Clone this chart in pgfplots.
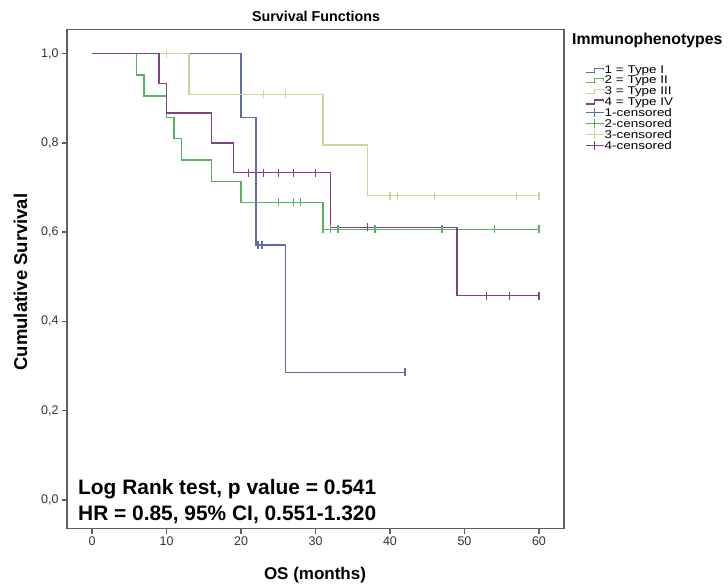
\documentclass[border=0pt]{standalone}
\usepackage{fontspec}
\setmainfont{Liberation Sans}
\newfontfamily\legfont{Liberation Sans}[FakeStretch=1.2]
\usepackage{pgfplots}
\pgfplotsset{compat=1.18}
\definecolor{cI}{RGB}{92,108,172}
\definecolor{cII}{RGB}{86,178,98}
\definecolor{cIII}{RGB}{212,210,152}
\definecolor{cIV}{RGB}{128,68,132}
\definecolor{axgray}{RGB}{95,95,95}

\pgfplotsset{
  km/.style={const plot mark left, no marks, line width=1.4pt, #1,
    legend image code/.code={
      \draw[#1, line width=1.2pt] (0pt,-2pt) -- (9pt,-2pt) -- (9pt,2pt) -- (18pt,2pt) -- (18pt,0pt);}},
  cens/.style={only marks, mark=|, mark size=4pt, mark options={line width=1.3pt, #1},
    legend image code/.code={
      \draw[#1, line width=1.2pt] (0pt,0pt) -- (18pt,0pt);
      \draw[#1, line width=1.2pt] (9pt,-4.5pt) -- (9pt,4.5pt);}},
}

\begin{document}
\begin{tikzpicture}[x=1pt,y=1pt]
\path[use as bounding box] (0,0) rectangle (728,587);
\begin{axis}[
  at={(67pt,58.5pt)}, anchor=south west,
  width=497pt, height=499pt, scale only axis,
  xmin=-3.36, xmax=63.36, ymin=-0.064, ymax=1.054,
  xtick={0,10,20,30,40,50,60},
  ytick={0,0.2,0.4,0.6,0.8,1.0},
  tick pos=left, tick align=outside, major tick length=5pt,
  tick style={axgray, line width=1.3pt},
  axis line style={axgray, line width=1.3pt},
  /pgf/number format/assume math mode=true,
  yticklabel style={/pgf/number format/.cd, fixed, fixed zerofill, precision=1, use comma},
  ticklabel style={font=\fontsize{12.5}{14}\selectfont, text=black!80},
  legend style={at={(1.042,0.929)}, anchor=north west, draw=none, fill=none,
    font=\legfont\fontsize{11.2}{11}\selectfont, row sep=0.45pt, inner sep=0pt,
    nodes={inner sep=0.45pt}},
  legend cell align=left,
  clip=false,
]
\addplot[km=cI] coordinates {(0,1)(20,0.857)(22,0.571)(26,0.286)(42,0.286)};
\addlegendentry{1 = Type I}
\addplot[km=cII] coordinates {(0,1)(6,0.952)(7,0.905)(10,0.857)(11,0.810)(12,0.762)(16,0.714)(20,0.667)(31,0.606)(60,0.606)};
\addlegendentry{2 = Type II}
\addplot[km=cIII] coordinates {(0,1)(13,0.909)(31,0.795)(37,0.682)(60,0.682)};
\addlegendentry{3 = Type III}
\addplot[km=cIV] coordinates {(0,1)(9,0.933)(10,0.867)(16,0.8)(19,0.733)(32,0.611)(49,0.458)(60,0.458)};
\addlegendentry{4 = Type IV}
\addplot[cens=cI] coordinates {(22.3,0.571)(22.8,0.571)(42,0.286)};
\addlegendentry{1-censored}
\addplot[cens=cII] coordinates {(25,0.667)(27,0.667)(28,0.667)(31,0.606)(32,0.606)(33,0.606)(38,0.606)(47,0.606)(54,0.606)(60,0.606)};
\addlegendentry{2-censored}
\addplot[cens=cIII] coordinates {(10,1)(23,0.909)(26,0.909)(40,0.682)(41,0.682)(46,0.682)(57,0.682)(60,0.682)};
\addlegendentry{3-censored}
\addplot[cens=cIV] coordinates {(21,0.733)(23,0.733)(25,0.733)(27,0.733)(30,0.733)(37,0.611)(53,0.458)(56,0.458)(60,0.458)};
\addlegendentry{4-censored}
\end{axis}
\node[anchor=base, font=\bfseries\fontsize{14.3}{16}\selectfont] at (316,565.3) {Survival Functions};
\node[anchor=base, font=\bfseries\fontsize{17}{19}\selectfont] at (315,7.7) {OS (months)};
\node[anchor=base, rotate=90, font=\bfseries\fontsize{18.5}{20}\selectfont] at (27,305) {Cumulative Survival};
\node[anchor=base west, inner sep=0pt, font=\bfseries\fontsize{15.8}{17}\selectfont] at (572,542) {Immunophenotypes};
\node[anchor=base west, inner sep=0pt, font=\bfseries\fontsize{20.9}{23}\selectfont] at (78,92.7) {Log Rank test, p value = 0.541};
\node[anchor=base west, inner sep=0pt, font=\bfseries\fontsize{20.9}{23}\selectfont] at (78,66.3) {HR = 0.85, 95\% CI, 0.551-1.320};
\end{tikzpicture}
\end{document}
